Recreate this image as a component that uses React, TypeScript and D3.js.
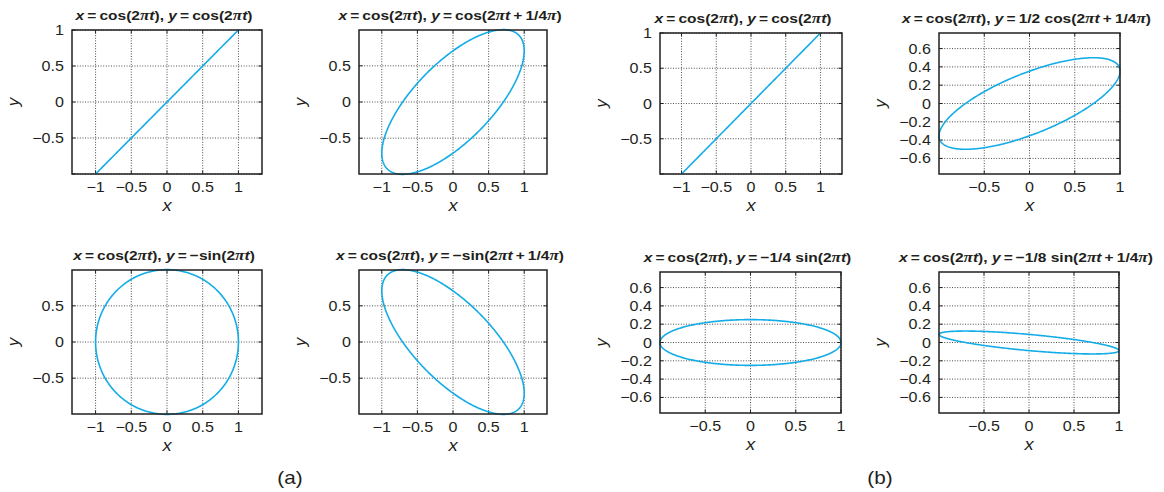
import React from "react";
import * as d3 from "d3";

// panels in reading order: top row then bottom row
const titles = [
  "x=cos(2πt), y=cos(2πt)",
  "x=cos(2πt), y=cos(2πt+1/4π)",
  "x=cos(2πt), y=cos(2πt)",
  "x=cos(2πt), y=1/2 cos(2πt+1/4π)",
  "x=cos(2πt), y=−sin(2πt)",
  "x=cos(2πt), y=−sin(2πt+1/4π)",
  "x=cos(2πt), y=−1/4 sin(2πt)",
  "x=cos(2πt), y=−1/8 sin(2πt+1/4π)",
];

// y = amp * fn(2πt + phase·π), x = cos(2πt)
const yAmps = [1, 1, 1, 0.5, -1, -1, -0.25, -0.125];
const yFuncs = ["cos", "cos", "cos", "cos", "sin", "sin", "sin", "sin"];
const yPhases = [0, 0.25, 0, 0.25, 0, 0.25, 0, 0.25];

const xDomains = [
  [-1.33, 1.33], [-1.32, 1.32], [-1.31, 1.31], [-1, 1],
  [-1.33, 1.33], [-1.32, 1.32], [-1, 1], [-1, 1],
];
const yDomains = [
  [-1, 1], [-0.995, 0.995], [-1, 1], [-0.77, 0.77],
  [-0.995, 0.995], [-0.995, 0.995], [-0.77, 0.77], [-0.77, 0.77],
];
const xTicksFull = [-1, -0.5, 0, 0.5, 1];
const xTicksHalf = [-0.5, 0, 0.5, 1];
const xTickSets = [xTicksFull, xTicksFull, xTicksFull, xTicksHalf, xTicksFull, xTicksFull, xTicksHalf, xTicksHalf];
const yGridFull = [-1, -0.5, 0, 0.5, 1];
const yGridFine = [-0.6, -0.4, -0.2, 0, 0.2, 0.4, 0.6];
const yGridSets = [yGridFull, yGridFull, yGridFull, yGridFine, yGridFull, yGridFull, yGridFine, yGridFine];
const yLabelSets = [
  [-0.5, 0, 0.5, 1], [-0.5, 0, 0.5], [-0.5, 0, 0.5, 1], yGridFine,
  [-0.5, 0, 0.5], [-0.5, 0, 0.5], yGridFine, yGridFine,
];
const groupLabels = ["(a)", "(b)"];

// plot boxes [left, right, top, bottom]
const boxes = [
  [72, 262, 30, 174], [359, 547, 30, 174], [660, 842, 33, 174], [939, 1120, 33, 174],
  [72, 262, 270, 414], [359, 547, 270, 414], [660, 841, 272, 413], [939, 1119, 272, 413],
];
const titleShift = [-3, -3, -8, -3, -3, -3, -3, -3];
const groupLabelPos = [[290, 484], [880, 484]];

const W = 1164;
const H = 492;
const ink = "#231f20";
const curveColor = "#14ace6";
const sans = "'Liberation Sans', Arial, Helvetica, sans-serif";
const stretch = 1.15; // the original lettering is a little wider than Arial

const fmt = (v: number) => (v < 0 ? "\u2212" : "") + String(Math.abs(v));
const at = (x: number, y: number) => `translate(${x},${y}) scale(${stretch},1)`;

// split title into styled runs: x, y, t italic, π serif italic
function titleRuns(s: string) {
  const runs: { text: string; kind: string }[] = [];
  for (const ch of s) {
    let kind = "n";
    let text = ch;
    if (ch === "x" || ch === "y" || ch === "t") kind = "i";
    else if (ch === "π") kind = "p";
    if (ch === "=" || ch === "+") text = "\u2009" + ch + "\u2009";
    const last = runs[runs.length - 1];
    if (last && last.kind === kind) last.text += text;
    else runs.push({ text, kind });
  }
  return runs;
}

const tSamples = d3.range(0, 1.0005, 0.0025);

function Panel({ i }: { i: number }) {
  const [x0, x1, y0, y1] = boxes[i];
  const xs = d3.scaleLinear().domain(xDomains[i]).range([x0, x1]);
  const ys = d3.scaleLinear().domain(yDomains[i]).range([y1, y0]);
  const fn = yFuncs[i] === "cos" ? Math.cos : Math.sin;
  const pts = tSamples.map((t) => ({
    x: Math.cos(2 * Math.PI * t),
    y: yAmps[i] * fn(2 * Math.PI * t + yPhases[i] * Math.PI),
  }));
  const line = d3
    .line<{ x: number; y: number }>()
    .x((d) => xs(d.x))
    .y((d) => ys(d.y));
  const yGrid = yGridSets[i].filter((v) => v >= yDomains[i][0] - 1e-6 && v <= yDomains[i][1] + 1e-6);
  const tick = 3.5;
  const cx = (x0 + x1) / 2;
  const cy = (y0 + y1) / 2;
  return (
    <g>
      {/* grid */}
      {xTickSets[i].map((v) => (
        <line key={"gx" + v} x1={xs(v)} x2={xs(v)} y1={y0} y2={y1}
          stroke="#3a3a3a" strokeWidth={0.9} strokeDasharray="1,1.6" />
      ))}
      {yGrid.map((v) => (
        <line key={"gy" + v} x1={x0} x2={x1} y1={ys(v)} y2={ys(v)}
          stroke="#3a3a3a" strokeWidth={0.9} strokeDasharray="1,1.6" />
      ))}
      {/* inward ticks */}
      {xTickSets[i].map((v) => (
        <g key={"tx" + v}>
          <line x1={xs(v)} x2={xs(v)} y1={y1} y2={y1 - tick} stroke={ink} strokeWidth={1} />
          <line x1={xs(v)} x2={xs(v)} y1={y0} y2={y0 + tick} stroke={ink} strokeWidth={1} />
        </g>
      ))}
      {yGrid.map((v) => (
        <g key={"ty" + v}>
          <line x1={x0} x2={x0 + tick} y1={ys(v)} y2={ys(v)} stroke={ink} strokeWidth={1} />
          <line x1={x1} x2={x1 - tick} y1={ys(v)} y2={ys(v)} stroke={ink} strokeWidth={1} />
        </g>
      ))}
      {/* curve */}
      <path d={line(pts) || ""} fill="none" stroke={curveColor} strokeWidth={1.6} />
      {/* box */}
      <rect x={x0} y={y0} width={x1 - x0} height={y1 - y0} fill="none" stroke={ink} strokeWidth={1.5} />
      {/* tick labels */}
      {xTickSets[i].map((v) => (
        <text key={"lx" + v} transform={at(xs(v), y1 + 18)} textAnchor="middle"
          fontFamily={sans} fontSize={14} fill={ink}>{fmt(v)}</text>
      ))}
      {yLabelSets[i].map((v) => (
        <text key={"ly" + v} transform={at(x0 - 8, ys(v))} dy="0.36em" textAnchor="end"
          fontFamily={sans} fontSize={14} fill={ink}>{fmt(v)}</text>
      ))}
      {/* axis labels */}
      <text transform={at(cx, y1 + 37)} textAnchor="middle" fontFamily={sans} fontStyle="italic"
        fontSize={16} fill={ink}>x</text>
      <text transform={`translate(${x0 - 53},${cy}) rotate(-90)`} textAnchor="middle"
        fontFamily={sans} fontStyle="italic" fontSize={17} fill={ink}>y</text>
      {/* title */}
      <text transform={at(cx + titleShift[i], y0 - 10)} textAnchor="middle" fontFamily={sans}
        fontWeight="bold" fontSize={13.5} fill={ink}>
        {titleRuns(titles[i]).map((r, k) => (
          <tspan key={k}
            fontStyle={r.kind === "n" ? "normal" : "italic"}
            fontFamily={r.kind === "p" ? "'Liberation Serif', 'Times New Roman', serif" : sans}
            fontSize={r.kind === "p" ? 15 : 13.5}>
            {r.text}
          </tspan>
        ))}
      </text>
    </g>
  );
}

export default function App() {
  return (
    <svg width={W} height={H} viewBox={`0 0 ${W} ${H}`}
      style={{ position: "absolute", left: 0, top: 0, background: "#fff" }}>
      <rect width={W} height={H} fill="#fff" />
      {titles.map((_, i) => (
        <Panel key={i} i={i} />
      ))}
      {groupLabels.map((s, k) => (
        <text key={s} transform={at(groupLabelPos[k][0], groupLabelPos[k][1])} textAnchor="middle"
          fontFamily={sans} fontSize={18} fill={ink}>{s}</text>
      ))}
    </svg>
  );
}
